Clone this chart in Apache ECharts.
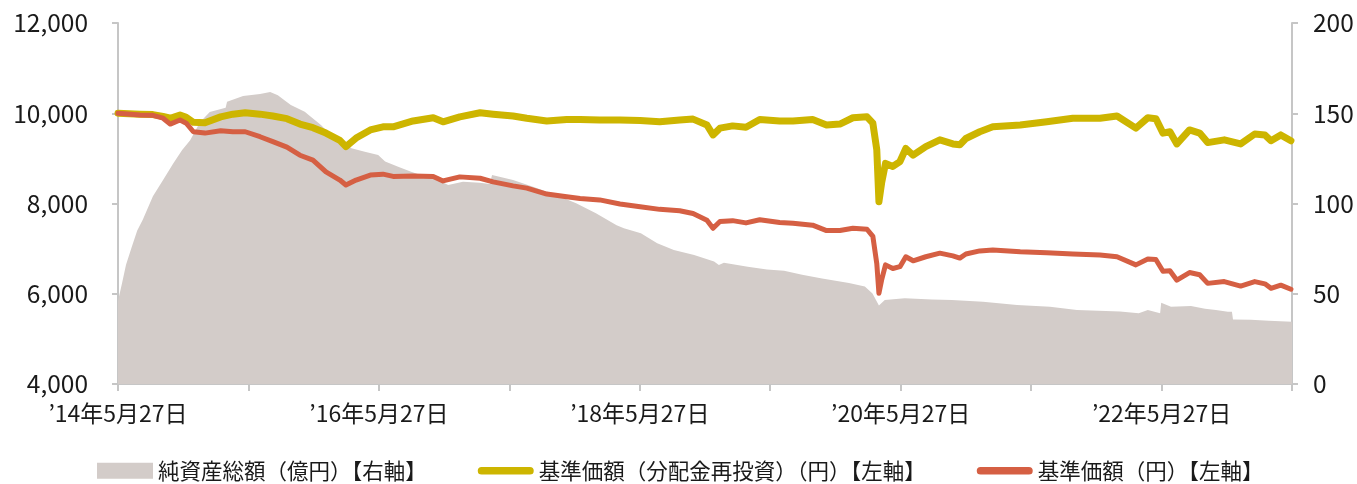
<!DOCTYPE html>
<html><head><meta charset="utf-8">
<script src="https://cdn.jsdelivr.net/npm/echarts@6/dist/echarts.min.js"></script>
<style>html,body{margin:0;padding:0;background:#fff}#c{width:1357px;height:484px}</style>
</head><body><div id="c"></div>
<script>
const lineDates = ['2014-05-27','2014-07-28','2014-09-03','2014-10-01','2014-10-21','2014-11-18','2014-12-05','2014-12-25','2015-01-27','2015-03-10',
'2015-04-14','2015-05-18','2015-06-29','2015-08-04','2015-09-13','2015-10-19','2015-11-25','2015-12-31','2016-02-09','2016-02-26',
'2016-03-24','2016-05-03','2016-06-08','2016-07-06','2016-09-01','2016-10-27','2016-11-24','2017-01-10','2017-03-06','2017-04-12',
'2017-06-07','2017-07-15','2017-09-10','2017-11-05','2017-12-12','2018-02-06','2018-04-02','2018-05-28','2018-07-22','2018-09-17',
'2018-10-24','2018-12-02','2018-12-19','2019-01-08','2019-02-13','2019-03-20','2019-04-28','2019-06-23','2019-07-30','2019-09-24',
'2019-11-02','2019-12-09','2020-01-15','2020-02-24','2020-03-10','2020-03-21','2020-03-27','2020-04-04','2020-04-15','2020-05-05',
'2020-05-25','2020-06-11','2020-07-01','2020-08-06','2020-09-15','2020-10-21','2020-11-10','2020-11-27','2021-01-05','2021-02-11',
'2021-04-27','2021-07-10','2021-09-22','2021-12-07','2022-01-24','2022-03-16','2022-04-19','2022-05-11','2022-05-31','2022-06-20',
'2022-07-09','2022-08-14','2022-09-12','2022-10-04','2022-11-20','2023-01-05','2023-02-14','2023-03-12','2023-03-29','2023-04-26','2023-05-24'];

const reinvestedPrice = [10000,9980,9970,9930,9890,9960,9910,9800,9790,9920,
9980,10010,9980,9940,9880,9760,9680,9560,9400,9260,
9450,9630,9700,9700,9830,9900,9810,9920,10010,9980,
9940,9890,9830,9860,9860,9850,9850,9840,9810,9850,
9870,9740,9520,9670,9720,9690,9860,9830,9830,9860,
9740,9760,9900,9920,9780,9190,8040,8450,8890,8820,
8930,9220,9070,9260,9410,9320,9300,9440,9590,9700,
9740,9810,9890,9890,9940,9670,9900,9880,9560,9590,
9320,9630,9560,9350,9410,9320,9540,9520,9390,9520,9390];

const basePrice = [10000,9960,9955,9890,9760,9850,9780,9590,9560,9610,
9590,9590,9480,9370,9250,9070,8960,8700,8520,8410,
8520,8630,8650,8600,8610,8600,8500,8590,8560,8480,
8390,8340,8210,8150,8110,8080,7990,7930,7870,7840,
7780,7630,7450,7600,7620,7570,7640,7580,7560,7520,
7400,7400,7450,7430,7270,6670,6010,6300,6640,6560,
6600,6820,6730,6820,6900,6840,6790,6880,6950,6970,
6930,6910,6880,6860,6820,6640,6770,6760,6500,6510,
6300,6470,6420,6230,6270,6170,6270,6220,6120,6190,6100];

const assetDates = ['2014-05-27','2014-06-08','2014-06-19','2014-07-03','2014-07-20','2014-08-05','2014-09-03','2014-10-01','2014-10-29','2014-11-24',
'2014-12-16','2015-01-13','2015-02-10','2015-03-24','2015-03-28','2015-05-12','2015-06-29','2015-07-27','2015-08-18','2015-09-07',
'2015-09-24','2015-11-02','2015-11-19','2015-12-17','2016-01-14','2016-02-23','2016-03-11','2016-04-18','2016-05-25','2016-06-14',
'2016-07-20','2016-08-26','2016-10-04','2016-11-10','2016-12-08','2017-01-19','2017-03-05','2017-04-03','2017-04-09','2017-06-07',
'2017-08-02','2017-10-06','2017-12-01','2018-01-26','2018-03-23','2018-04-13','2018-05-30','2018-07-15','2018-08-31','2018-10-27',
'2018-12-22','2019-01-05','2019-01-19','2019-03-25','2019-05-18','2019-07-05','2019-08-25','2019-10-20','2020-01-04','2020-02-18',
'2020-03-09','2020-03-27','2020-04-13','2020-06-08','2020-08-23','2020-10-18','2021-01-14','2021-04-18','2021-07-19','2021-10-03',
'2022-02-02','2022-03-24','2022-04-19','2022-05-23','2022-05-26','2022-06-23','2022-08-18','2022-09-27','2022-10-27','2022-11-30',
'2022-12-11','2022-12-14','2023-02-03','2023-03-23','2023-05-27'];

const netAssets = [46,56,66,75,85,91,104,113,122,129.6,
135,145,150.7,153,156.4,159.5,160.7,161.8,160,157,
154.6,150.9,148,143.5,138,133.4,130.6,128.7,126.9,123.2,
120.4,117.6,114.9,113,110.2,112,111.5,110.8,115.8,113,
109.3,104.7,100.1,94.6,88,86.3,83.5,78,74.2,71.5,
67.8,65.9,67.2,65,63.5,62.8,60.5,58.5,56,54,
50.2,43.5,46.5,47.5,46.8,46.5,45.6,43.8,42.8,41,
40.2,39.2,41,39.2,45,42.8,43.2,41.7,41,40,
40,35.8,35.6,35.1,34.5];

const seriesNames = ['純資産総額（億円）【右軸】','基準価額（分配金再投資）（円）【左軸】','基準価額（円）【左軸】'];
const xTickLabels = ['’14年5月27日','','’16年5月27日','','’18年5月27日','','’20年5月27日','','’22年5月27日',''];
const leftTickLabels = ['4,000','6,000','8,000','10,000','12,000'];
const rightTickLabels = ['0','50','100','150','200'];

function toMonths(s){const p=s.split('-').map(Number);return (p[0]-2014)*12+(p[1]-5)+(p[2]-27)/30.44;}
const pairs=(dates,vals)=>dates.map((d,i)=>[toMonths(d),vals[i]]);

const FONT='"Noto Sans CJK JP","Noto Sans",sans-serif';
const AX='#c6c6c6';
const TXT='#1a1a1a';
const LINE_ICON='path://M0,0L0.01,0M0,16L0.01,16M58,0L57.99,0M58,16L57.99,16M4,4L54,4A4,4,0,0,1,54,12L4,12A4,4,0,0,1,4,4Z';
const chart=echarts.init(document.getElementById('c'),null,{renderer:'canvas'});
chart.setOption({
  animation:false,
  textStyle:{fontFamily:FONT},
  grid:{left:118,right:65,top:23,bottom:100,containLabel:false},
  legend:{left:92,top:455,itemWidth:56,itemHeight:16,itemGap:51,
    textStyle:{fontFamily:FONT,fontSize:21.5,color:TXT},
    data:[{name:seriesNames[0],icon:'rect'},{name:seriesNames[1],icon:LINE_ICON},{name:seriesNames[2],icon:LINE_ICON}]},
  xAxis:{type:'value',min:0,max:108,interval:12,
    axisLine:{show:true,lineStyle:{color:AX,width:2}},
    axisTick:{show:true,length:7,lineStyle:{color:AX,width:2}},
    splitLine:{show:false},
    axisLabel:{margin:18,fontSize:23,color:TXT,fontFamily:FONT,
      formatter:v=>xTickLabels[Math.round(v/12)]||''}},
  yAxis:[
    {type:'value',min:4000,max:12000,interval:2000,position:'left',
     axisLine:{show:true,lineStyle:{color:AX,width:2}},
     axisTick:{show:true,length:6,lineStyle:{color:AX,width:2}},
     splitLine:{show:false},
     axisLabel:{margin:30,fontSize:24.5,color:TXT,fontFamily:FONT,
       formatter:v=>leftTickLabels[Math.round((v-4000)/2000)]}},
    {type:'value',min:0,max:200,interval:50,position:'right',
     axisLine:{show:true,lineStyle:{color:AX,width:2}},
     axisTick:{show:true,length:6,lineStyle:{color:AX,width:2}},
     splitLine:{show:false},
     axisLabel:{margin:21,fontSize:24.5,color:TXT,fontFamily:FONT,
       formatter:v=>rightTickLabels[Math.round(v/50)]}}
  ],
  series:[
    {name:seriesNames[0],type:'line',yAxisIndex:1,symbol:'none',
     data:pairs(assetDates,netAssets),color:'#D3CCC9',
     lineStyle:{width:0},areaStyle:{color:'#D3CCC9',opacity:1}},
    {name:seriesNames[1],type:'line',yAxisIndex:0,symbol:'none',
     data:pairs(lineDates,reinvestedPrice),color:'#CDB500',
     lineStyle:{width:7,color:'#CDB500',cap:'round',join:'round'}},
    {name:seriesNames[2],type:'line',yAxisIndex:0,symbol:'none',
     data:pairs(lineDates,basePrice),color:'#D55F43',
     lineStyle:{width:5,color:'#D55F43',cap:'round',join:'round'}}
  ]
});
</script></body></html>
